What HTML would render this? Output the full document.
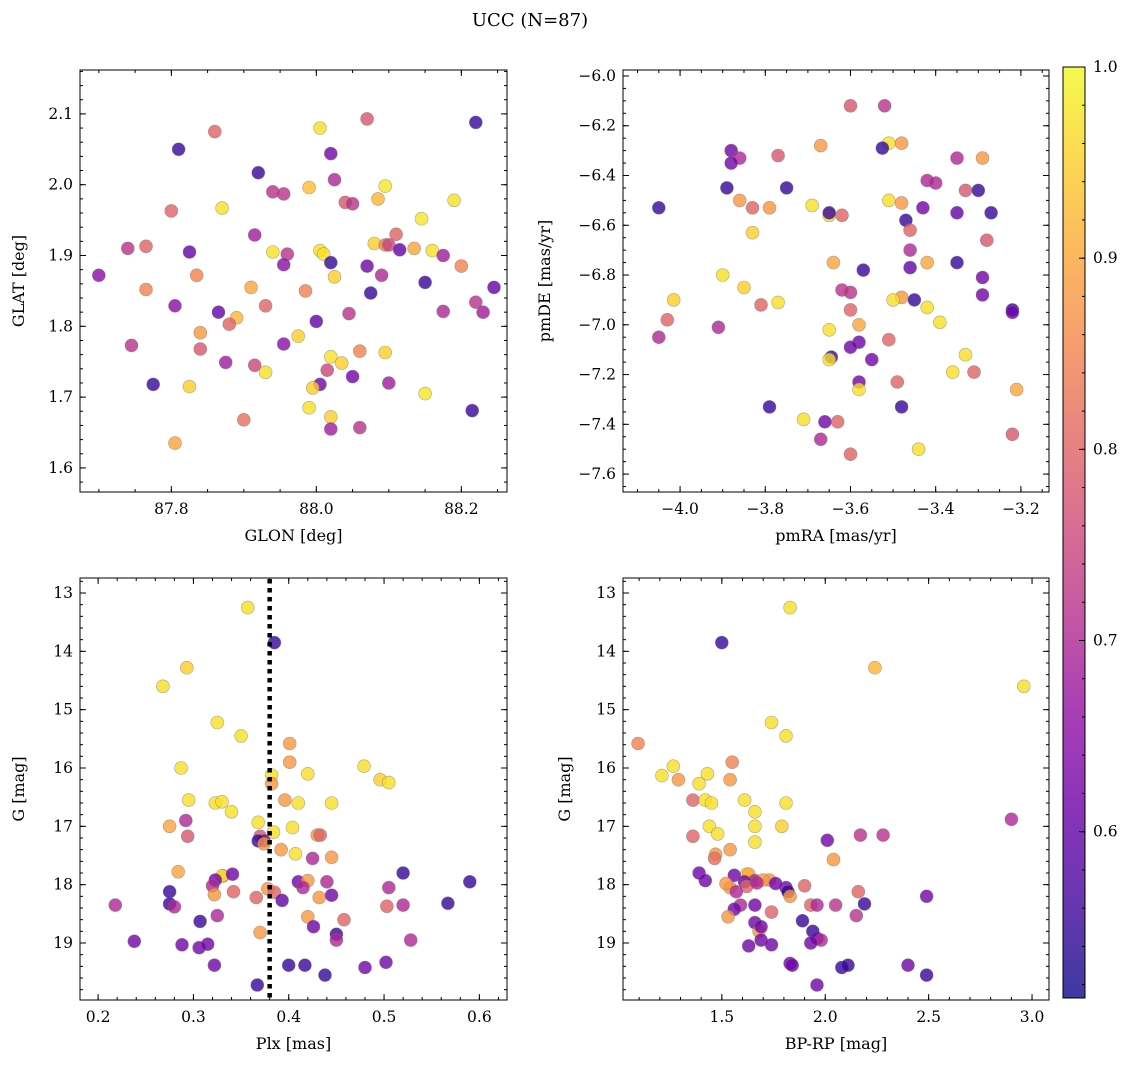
<!DOCTYPE html>
<html><head><meta charset="utf-8"><style>
html,body{margin:0;padding:0;background:#fff;}
svg{display:block;font-family:"DejaVu Serif","Liberation Serif",serif;}
</style></head><body>
<svg id="fig" width="1136" height="1067" viewBox="0 0 1136 1067" xmlns="http://www.w3.org/2000/svg">
<text x="530" y="26" font-size="18" text-anchor="middle">UCC (N=87)</text>
</svg>
<script>
// ---- data ----
const glon=[87.81,87.86,88.005,88.07,88.22,87.92,88.02,87.94,87.955,88.025,87.99,88.04,88.05,88.085,88.095,88.19,88.145,87.80,87.87,88.11,87.915,87.74,87.765,87.825,87.94,87.96,88.005,88.01,88.02,87.955,88.07,88.08,88.095,88.1,88.115,88.135,88.16,88.175,88.2,87.70,87.835,88.025,88.09,88.15,88.245,87.765,87.91,87.985,88.075,87.805,87.93,88.22,87.865,87.89,87.88,88.045,88.175,88.23,87.84,88.0,87.975,87.745,87.84,87.955,88.02,88.035,88.06,88.095,87.875,87.915,87.93,88.015,88.05,88.005,87.995,87.775,87.825,88.1,88.15,87.99,88.02,88.215,87.90,87.805,88.02,88.06];
const glat=[2.05,2.075,2.08,2.093,2.088,2.017,2.044,1.99,1.987,2.007,1.996,1.975,1.973,1.98,1.998,1.978,1.952,1.963,1.967,1.93,1.929,1.91,1.913,1.905,1.905,1.902,1.907,1.902,1.89,1.887,1.885,1.917,1.915,1.915,1.908,1.91,1.907,1.9,1.885,1.872,1.872,1.87,1.872,1.862,1.855,1.852,1.855,1.85,1.847,1.829,1.829,1.834,1.82,1.812,1.803,1.818,1.821,1.82,1.791,1.807,1.786,1.773,1.768,1.775,1.757,1.748,1.765,1.763,1.749,1.745,1.735,1.738,1.729,1.718,1.713,1.718,1.715,1.72,1.705,1.685,1.672,1.681,1.668,1.635,1.655,1.657];
const probTL=[.55,.8,.97,.78,.55,.55,.62,.72,.72,.7,.93,.78,.72,.92,.98,.97,.98,.8,.97,.8,.68,.72,.8,.6,.97,.72,.97,.97,.55,.65,.62,.95,.85,.75,.6,.9,.97,.68,.85,.65,.85,.95,.7,.55,.6,.85,.9,.85,.55,.65,.8,.72,.6,.92,.8,.72,.7,.68,.88,.6,.95,.72,.78,.65,.97,.95,.85,.95,.68,.75,.97,.75,.62,.62,.95,.55,.95,.68,.98,.97,.95,.55,.82,.9,.68,.72];

const pmra=[-3.6,-3.52,-3.51,-3.48,-3.525,-3.88,-3.86,-3.88,-3.77,-3.67,-3.35,-3.29,-3.89,-3.75,-3.42,-3.40,-3.33,-3.30,-3.86,-3.83,-3.79,-3.69,-4.05,-3.51,-3.48,-3.43,-3.65,-3.62,-3.65,-3.47,-3.35,-3.27,-3.46,-3.83,-3.28,-3.46,-3.64,-3.42,-3.35,-3.57,-3.46,-3.90,-3.29,-3.85,-3.62,-3.60,-3.29,-3.48,-3.50,-3.45,-4.015,-4.03,-3.77,-3.81,-3.42,-3.60,-3.22,-3.22,-3.39,-3.58,-3.91,-3.65,-3.51,-4.05,-3.58,-3.60,-3.645,-3.65,-3.55,-3.33,-3.36,-3.31,-3.21,-3.58,-3.58,-3.49,-3.79,-3.48,-3.71,-3.63,-3.66,-3.22,-3.67,-3.60,-3.44];
const pmde=[-6.12,-6.12,-6.27,-6.27,-6.29,-6.30,-6.33,-6.35,-6.32,-6.28,-6.33,-6.33,-6.45,-6.45,-6.42,-6.43,-6.46,-6.46,-6.50,-6.53,-6.53,-6.52,-6.53,-6.50,-6.51,-6.53,-6.56,-6.56,-6.55,-6.58,-6.55,-6.55,-6.62,-6.63,-6.66,-6.70,-6.75,-6.75,-6.75,-6.78,-6.77,-6.80,-6.81,-6.85,-6.86,-6.87,-6.88,-6.89,-6.90,-6.90,-6.90,-6.98,-6.91,-6.92,-6.93,-6.94,-6.94,-6.95,-6.99,-7.00,-7.01,-7.02,-7.06,-7.05,-7.07,-7.09,-7.13,-7.14,-7.14,-7.12,-7.19,-7.19,-7.26,-7.23,-7.26,-7.23,-7.33,-7.33,-7.38,-7.39,-7.39,-7.44,-7.46,-7.52,-7.50];
const probTR=[.78,.72,.97,.88,.55,.62,.7,.62,.78,.88,.7,.88,.55,.55,.7,.7,.78,.55,.88,.8,.88,.97,.55,.97,.88,.62,.97,.8,.55,.55,.6,.55,.8,.95,.78,.7,.9,.9,.55,.55,.6,.97,.62,.95,.72,.72,.62,.88,.97,.55,.95,.8,.97,.8,.97,.8,.55,.62,.97,.9,.7,.97,.8,.7,.62,.62,.55,.97,.62,.97,.97,.8,.9,.62,.97,.8,.55,.55,.97,.8,.62,.78,.7,.8,.97];

const plx=[0.357,0.385,0.293,0.268,0.325,0.350,0.401,0.401,0.479,0.496,0.505,0.287,0.382,0.42,0.382,0.295,0.323,0.33,0.396,0.41,0.445,0.34,0.368,0.292,0.275,0.404,0.294,0.37,0.374,0.368,0.374,0.384,0.43,0.433,0.392,0.407,0.425,0.445,0.284,0.331,0.33,0.341,0.52,0.323,0.41,0.42,0.44,0.59,0.32,0.342,0.415,0.275,0.378,0.385,0.322,0.366,0.393,0.432,0.445,0.505,0.218,0.275,0.28,0.503,0.52,0.567,0.42,0.325,0.458,0.307,0.426,0.37,0.45,0.45,0.238,0.528,0.288,0.306,0.315,0.322,0.40,0.417,0.502,0.48,0.438,0.367];
const gPlx=[13.25,13.85,14.28,14.6,15.22,15.45,15.58,15.9,15.97,16.2,16.25,16.0,16.12,16.1,16.27,16.55,16.6,16.58,16.55,16.6,16.6,16.75,16.93,16.9,17.0,17.02,17.17,17.17,17.25,17.25,17.3,17.1,17.15,17.15,17.4,17.47,17.55,17.53,17.78,17.85,17.85,17.82,17.8,17.92,17.95,17.93,17.95,17.95,18.02,18.12,18.05,18.12,18.07,18.13,18.17,18.22,18.27,18.22,18.18,18.05,18.35,18.33,18.38,18.37,18.35,18.32,18.55,18.53,18.6,18.63,18.72,18.82,18.85,18.95,18.97,18.95,19.03,19.08,19.02,19.38,19.38,19.38,19.33,19.42,19.55,19.72];
const probBL=[.97,.55,.95,.97,.97,.97,.88,.88,.97,.95,.97,.97,.97,.97,.88,.97,.97,.97,.88,.97,.97,.97,.97,.7,.9,.97,.78,.78,.62,.55,.88,.97,.88,.8,.88,.97,.7,.88,.9,.88,.97,.62,.55,.62,.62,.88,.7,.55,.7,.8,.7,.55,.88,.8,.88,.8,.6,.88,.62,.7,.7,.55,.7,.8,.7,.55,.88,.7,.8,.55,.62,.88,.55,.7,.62,.7,.62,.62,.62,.62,.55,.55,.62,.62,.55,.55];

const bprp=[1.83,1.5,2.24,2.96,1.74,1.81,1.095,1.55,1.265,1.21,1.29,1.39,1.43,1.54,1.36,1.42,1.45,1.61,1.81,1.66,2.90,1.44,1.79,1.66,1.36,1.48,2.01,2.17,2.28,1.66,1.54,1.47,1.465,2.04,1.39,1.42,1.62,1.63,1.56,1.73,1.66,1.70,1.61,1.81,1.90,1.54,1.62,1.67,1.76,1.82,1.57,1.52,2.16,2.49,1.83,1.59,1.56,1.66,1.93,1.96,2.05,2.19,1.53,1.74,2.15,1.66,1.89,1.68,1.69,1.94,1.96,1.98,1.93,1.69,1.63,1.74,1.83,1.84,2.08,2.11,2.40,2.49,1.96];
const gBp=[13.25,13.85,14.28,14.6,15.22,15.45,15.58,15.9,15.97,16.13,16.2,16.27,16.1,16.2,16.55,16.55,16.6,16.55,16.6,16.75,16.88,17.0,17.0,17.0,17.17,17.13,17.24,17.15,17.15,17.27,17.4,17.48,17.55,17.57,17.8,17.93,17.82,17.82,17.84,17.92,17.93,17.92,17.95,18.05,18.02,18.05,18.03,17.97,17.98,18.12,18.12,17.98,18.12,18.2,18.2,18.35,18.42,18.35,18.35,18.35,18.35,18.33,18.55,18.47,18.53,18.65,18.62,18.8,18.72,18.8,18.92,18.95,19.0,18.95,19.05,19.03,19.35,19.38,19.42,19.38,19.38,19.55,19.72];
const probBR=[.97,.55,.92,.97,.97,.97,.85,.85,.97,.97,.88,.97,.97,.88,.8,.97,.97,.97,.97,.97,.7,.97,.95,.97,.8,.97,.62,.72,.72,.97,.88,.88,.82,.88,.62,.62,.97,.9,.62,.88,.7,.88,.62,.62,.8,.88,.8,.7,.62,.55,.7,.88,.8,.62,.88,.7,.62,.62,.8,.7,.72,.55,.88,.8,.72,.62,.55,.88,.62,.55,.62,.7,.62,.62,.62,.62,.62,.62,.55,.55,.62,.55,.62];

const plxLine=0.38;
const cbMin=0.513, cbMax=1.0;
const cbTicks=[0.6,0.7,0.8,0.9,1.0];

// ---- helpers ----
const NS="http://www.w3.org/2000/svg";
const svg=document.getElementById('fig');
function mk(tag,attrs,parent){const e=document.createElementNS(NS,tag);for(const k in attrs)e.setAttribute(k,attrs[k]);(parent||svg).appendChild(e);return e;}
const stops2=[[0,[13,8,135]],[0.1,[65,4,157]],[0.2,[106,0,168]],[0.3,[143,13,164]],[0.4,[177,42,144]],[0.5,[204,71,120]],[0.6,[225,100,98]],[0.7,[242,132,75]],[0.8,[252,166,54]],[0.9,[252,206,37]],[1,[240,249,33]]];
function plasma(t){t=Math.max(0,Math.min(1,t));for(let i=1;i<stops2.length;i++){if(t<=stops2[i][0]){const a=stops2[i-1],b=stops2[i];const f=(t-a[0])/(b[0]-a[0]);const c=a[1].map((v,j)=>Math.round(v+(b[1][j]-v)*f));return `rgb(${c.join(',')})`;}}return 'rgb(240,249,33)';}
function pcol(p){return plasma((p-cbMin)/(cbMax-cbMin));}

function panel(name,box,xd,yd,xt,yt,xminor,yminor,xlab,ylab,xs,ys,ps,fmtx,fmty){
  const g=mk('g',{},svg);
  
  
  const [L,T,R,B]=box;
  const sx=v=>L+(v-xd[0])/(xd[1]-xd[0])*(R-L);
  const sy=v=>T+(v-yd[0])/(yd[1]-yd[0])*(B-T);
  const clip=mk('clipPath',{id:'c'+name},g);mk('rect',{x:L,y:T,width:R-L,height:B-T},clip);
  const pts=mk('g',{'clip-path':`url(#c${name})`},g);
  
  
  for(let i=0;i<xs.length;i++){
    const c=mk('circle',{cx:sx(xs[i]).toFixed(1),cy:sy(ys[i]).toFixed(1),r:6.5,fill:pcol(ps[i]),'fill-opacity':0.8,stroke:'#777','stroke-opacity':0.6,'stroke-width':0.6},pts);
    
    
  }
  mk('rect',{x:L,y:T,width:R-L,height:B-T,fill:'none',stroke:'#000','stroke-width':1},g);
  const lo=Math.min(...xd),hi=Math.max(...xd);
  for(let v=Math.ceil(lo/xminor-1e-6)*xminor;v<=hi+1e-9;v+=xminor){const x=sx(v);mk('line',{x1:x,x2:x,y1:B,y2:B-3,stroke:'#000'},g);mk('line',{x1:x,x2:x,y1:T,y2:T+3,stroke:'#000'},g);}
  const ylo=Math.min(...yd),yhi=Math.max(...yd);
  for(let v=Math.ceil(ylo/yminor-1e-6)*yminor;v<=yhi+1e-9;v+=yminor){const y=sy(v);mk('line',{x1:L,x2:L+3,y1:y,y2:y,stroke:'#000'},g);mk('line',{x1:R,x2:R-3,y1:y,y2:y,stroke:'#000'},g);}
  xt.forEach(v=>{const x=sx(v);mk('line',{x1:x,x2:x,y1:B,y2:B-6,stroke:'#000'},g);mk('line',{x1:x,x2:x,y1:T,y2:T+6,stroke:'#000'},g);
    const t=mk('text',{x:x,y:B+22,'font-size':15.5,'text-anchor':'middle'},g);t.textContent=fmtx(v);
    });
  yt.forEach(v=>{const y=sy(v);mk('line',{x1:L,x2:L+6,y1:y,y2:y,stroke:'#000'},g);mk('line',{x1:R,x2:R-6,y1:y,y2:y,stroke:'#000'},g);
    const t=mk('text',{x:L-7,y:y+5,'font-size':15.5,'text-anchor':'end'},g);t.textContent=fmty(v);
    });
  const xl=mk('text',{x:(L+R)/2,y:B+49,'font-size':16,'text-anchor':'middle'},g);xl.textContent=xlab;
  
  const yx=ylab[1];
  const yl=mk('text',{x:yx,y:(T+B)/2,'font-size':16,'text-anchor':'middle',transform:`rotate(-90 ${yx} ${(T+B)/2})`},g);yl.textContent=ylab[0];
  
  return {sx,sy,g};
}
const f1=v=>v.toFixed(1), f0=v=>v.toFixed(0);
const minus=s=>s.replace('-','\u2212');
panel('glon-glat-panel',[80,70,507,492],[87.674,88.263],[2.162,1.566],[87.8,88.0,88.2],[1.6,1.7,1.8,1.9,2.0,2.1],0.05,0.02,'GLON [deg]',['GLAT [deg]',24],glon,glat,probTL,f1,f1);
panel('pm-panel',[623,70,1049,492],[-4.134,-3.134],[-5.976,-7.672],[-4.0,-3.8,-3.6,-3.4,-3.2],[-6.0,-6.2,-6.4,-6.6,-6.8,-7.0,-7.2,-7.4,-7.6],0.05,0.05,'pmRA [mas/yr]',['pmDE [mas/yr]',550],pmra,pmde,probTR,v=>minus(f1(v)),v=>minus(f1(v)));
const bl=panel('plx-g-panel',[80,578,507,1000],[0.181,0.629],[12.743,19.977],[0.2,0.3,0.4,0.5,0.6],[13,14,15,16,17,18,19],0.02,0.2,'Plx [mas]',['G [mag]',24],plx,gPlx,probBL,f1,f0);
const ln=mk('line',{x1:bl.sx(plxLine),x2:bl.sx(plxLine),y1:579,y2:999,stroke:'#000','stroke-width':4.5,'stroke-dasharray':'4.5 4.5'},bl.g);


panel('cmd-panel',[623,578,1049,1000],[1.022,3.082],[12.743,19.977],[1.5,2.0,2.5,3.0],[13,14,15,16,17,18,19],0.1,0.2,'BP-RP [mag]',['G [mag]',570],bprp,gBp,probBR,f1,f0);

// colorbar
const cb=mk('g',{},svg);


const defs=mk('defs',{},cb);
const lg=mk('linearGradient',{id:'plasmaG',x1:0,y1:1,x2:0,y2:0},defs);
for(let i=0;i<=20;i++){const t=i/20;mk('stop',{offset:t,'stop-color':plasma(t),'stop-opacity':0.8},lg);}
const cT=67,cB=998,cL=1063,cR=1085;
mk('rect',{x:cL,y:cT,width:cR-cL,height:cB-cT,fill:'url(#plasmaG)',stroke:'#000','stroke-width':1},cb);
const cy=v=>cB-(v-cbMin)/(cbMax-cbMin)*(cB-cT);
for(let v=0.52;v<=1.0001;v+=0.02){const y=cy(v);mk('line',{x1:cR,x2:cR-3,y1:y,y2:y,stroke:'#000'},cb);}
cbTicks.forEach(v=>{const y=cy(v);mk('line',{x1:cR,x2:cR-6,y1:y,y2:y,stroke:'#000'},cb);
  const t=mk('text',{x:cR+8,y:y+5,'font-size':15.5},cb);t.textContent=v.toFixed(1);
  });
</script>
</body></html>
